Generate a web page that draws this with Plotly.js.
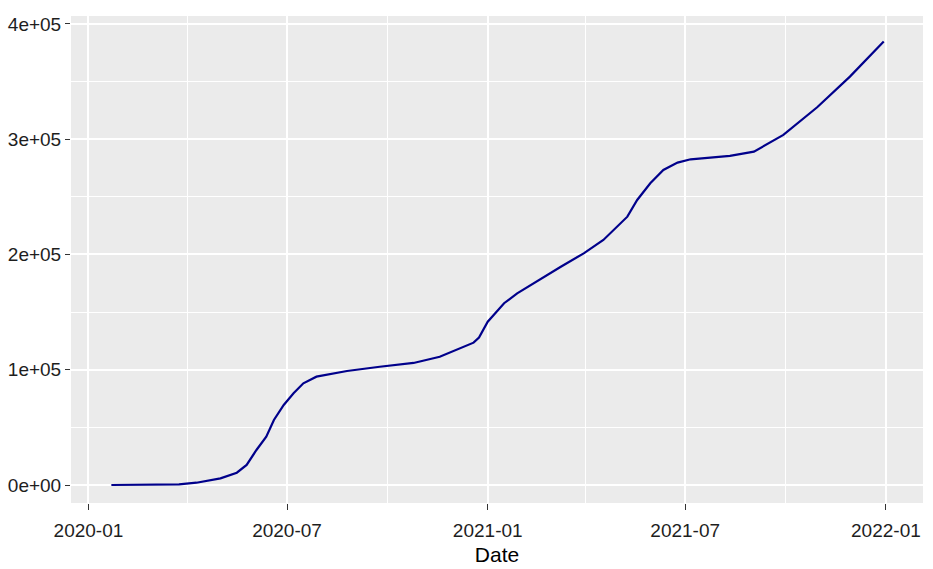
<!DOCTYPE html>
<html>
<head>
<meta charset="utf-8">
<script src="https://cdn.plot.ly/plotly-3.0.1.min.js"></script>
<style>
  html, body { margin: 0; padding: 0; background: white; }
  #chart { width: 933px; height: 569px; }
</style>
</head>
<body>
<div id="chart"></div>
<script>
// cumulative total
const dates = [
  '2020-01-22', '2020-03-24', '2020-04-09', '2020-04-24', '2020-05-01', '2020-05-16',
  '2020-05-25', '2020-06-03', '2020-06-12', '2020-06-19', '2020-06-28', '2020-07-07',
  '2020-07-16', '2020-07-28', '2020-08-13', '2020-08-25', '2020-09-24', '2020-10-25',
  '2020-11-18', '2020-12-07', '2020-12-19', '2020-12-24', '2021-01-01', '2021-01-16',
  '2021-01-28', '2021-03-09', '2021-03-30', '2021-04-17', '2021-05-09', '2021-05-18',
  '2021-05-30', '2021-06-11', '2021-06-24', '2021-07-06', '2021-08-11', '2021-09-02',
  '2021-09-29', '2021-10-30', '2021-11-29', '2021-12-30'
];
const totals = [
  0, 500, 2000, 4300, 5800, 10700,
  17400, 30400, 41900, 56400, 69400, 79600,
  88200, 94000, 96900, 98900, 102600, 105900,
  111300, 118900, 123500, 128000, 141700, 157700,
  166300, 189400, 201000, 212600, 232800, 247300,
  261800, 273300, 279700, 282600, 285500, 289200,
  303700, 327700, 354300, 384700
];

const xTicks = ['2020-01-01', '2020-07-01', '2021-01-01', '2021-07-01', '2022-01-01'];
const xTickText = ['2020-01', '2020-07', '2021-01', '2021-07', '2022-01'];
const xMinor = ['2020-04-01', '2020-10-01', '2021-04-01', '2021-10-01'];
const yTicks = [0, 100000, 200000, 300000, 400000];
const yTickText = ['0e+00', '1e+05', '2e+05', '3e+05', '4e+05'];
const yMinor = [50000, 150000, 250000, 350000];

var data = [{
  x: dates,
  y: totals,
  type: 'scatter',
  mode: 'lines',
  line: { color: '#00008B', width: 2.2 },
  showlegend: false
}];

var tickFont = { family: 'Liberation Sans, Arial, sans-serif', size: 19, color: '#1e1e1e' };

var layout = {
  width: 933,
  height: 569,
  margin: { l: 71, r: 10, t: 16, b: 66 },
  paper_bgcolor: 'white',
  plot_bgcolor: '#EBEBEB',
  showlegend: false,
  xaxis: {
    type: 'date',
    range: ['2019-12-16', '2022-02-04'],
    tickvals: xTicks,
    ticktext: xTickText,
    ticks: 'outside',
    ticklen: 6,
    tickwidth: 1,
    tickcolor: '#333333',
    tickfont: tickFont,
    ticklabelstandoff: 4,
    showgrid: true,
    gridcolor: 'white',
    gridwidth: 2,
    zeroline: false,
    showline: false,
    minor: { tickvals: xMinor, showgrid: true, gridcolor: 'white', gridwidth: 1, ticks: '' },
    title: { text: 'Date', font: { family: 'Liberation Sans, Arial, sans-serif', size: 21, color: '#000' }, standoff: 7 }
  },
  yaxis: {
    range: [-15600, 406900],
    tickvals: yTicks,
    ticktext: yTickText,
    ticks: 'outside',
    ticklen: 5,
    tickwidth: 1,
    tickcolor: '#333333',
    tickfont: tickFont,
    showgrid: true,
    gridcolor: 'white',
    gridwidth: 2,
    zeroline: false,
    showline: false,
    minor: { tickvals: yMinor, showgrid: true, gridcolor: 'white', gridwidth: 1, ticks: '' }
  }
};

Plotly.newPlot('chart', data, layout, { displayModeBar: false, staticPlot: true });
</script>
</body>
</html>
